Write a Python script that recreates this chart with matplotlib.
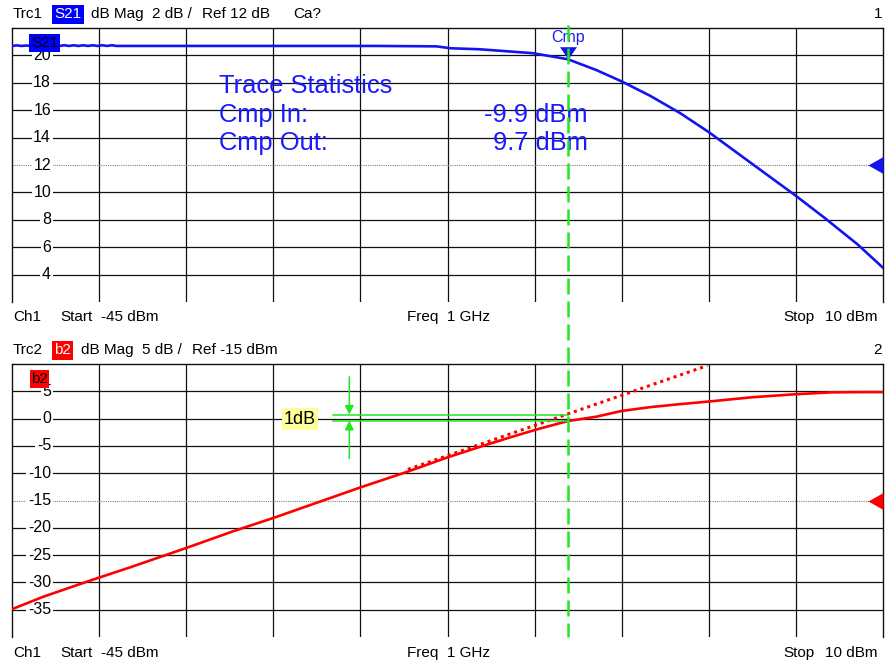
import matplotlib
matplotlib.use("Agg")
import matplotlib.pyplot as plt
from matplotlib.lines import Line2D
from matplotlib.transforms import blended_transform_factory

plt.rcParams['font.family'] = ['Liberation Sans', 'DejaVu Sans']

W, H = 886, 661

# power sweep (dBm)
start_pin = -45.0
stop_pin = 10.0

# Trc1: S21 gain (dB) vs input power (dBm)
s21_pin = [-45.0, -44.7, -44.4, -44.1, -43.8, -43.5, -43.2, -42.9, -42.6, -42.3,
           -42.0, -41.7, -41.4, -41.1, -40.8, -40.5, -40.2, -39.9, -39.6, -39.3,
           -39.0, -38.7, -38.4, -38.1,
           -30.0, -22.0, -18.2, -17.3, -15.5, -14.2, -12.1, -9.9, -8.1, -6.5,
           -4.7, -2.8, -1.0, 1.6, 4.5, 6.3, 8.4, 10.0]
s21_gain = [20.69, 20.73, 20.69, 20.72, 20.69, 20.69, 20.69, 20.69, 20.69, 20.69,
            20.69, 20.74, 20.69, 20.74, 20.69, 20.74, 20.69, 20.74, 20.69, 20.74,
            20.69, 20.74, 20.69, 20.69,
            20.69, 20.69, 20.66, 20.52, 20.45, 20.34, 20.16, 19.72, 18.93, 18.1,
            17.05, 15.78, 14.4, 12.2, 9.75, 8.15, 6.2, 4.5]

# Trc2: b2 wave (dBm) vs input power (dBm)
b2_pin = [-45.0, -43.0, -40.1, -37.5, -34.0, -31.0, -28.5, -25.4, -23.0, -20.0,
          -17.5, -15.0, -13.5, -11.7, -9.9, -8.1, -6.5, -4.7, -2.8, -1.1,
          1.7, 4.4, 6.7, 8.5, 10.0]
b2_out = [-34.9, -32.6, -29.7, -27.2, -23.7, -20.6, -18.2, -15.05, -12.6, -9.7,
          -7.1, -4.75, -3.4, -1.85, -0.45, 0.35, 1.4, 2.1, 2.65, 3.1,
          3.9, 4.45, 4.8, 4.85, 4.85]

# linear extension of b2
lin_pin = [-20.0, -1.1]
lin_out = [-9.3, 9.7]

# compression point
cmp_in = -9.9
cmp_out = 9.7
cmp_gain = 19.72
cmp_upper = 0.75
cmp_lower = -0.4
cmp_bar_pin = [-24.7, -9.9]
arrow_pin = -23.7
arrow_len = 6.9

top_ticks = [4, 6, 8, 10, 12, 14, 16, 18, 20]
top_ref = 12
bot_ticks = [-35, -30, -25, -20, -15, -10, -5, 0, 5]
bot_ref = -15

BLUE = '#1414f0'
RED = '#ff0000'
GREEN = '#22e622'
TXT_BLUE = '#1a1aff'


def px(x, y):
    return x / W, 1 - y / H


def setup_panel(ax, ylo, yhi, ticks, ref):
    ax.set_xlim(start_pin, stop_pin)
    ax.set_ylim(ylo, yhi)
    ax.set_xticks([])
    ax.set_yticks([])
    ax.spines['bottom'].set_visible(False)
    for s in ['left', 'top', 'right']:
        ax.spines[s].set_linewidth(1.0)
        ax.spines[s].set_color('#101010')
    div = (stop_pin - start_pin) / 10
    for k in range(1, 10):
        ax.axvline(start_pin + k * div, color='#101010', lw=0.9, zorder=1)
    for t in ticks:
        if t == ref:
            ax.axhline(t, color='#808080', lw=0.8, ls=(0, (1, 1)), zorder=1)
        else:
            ax.axhline(t, color='#101010', lw=0.9, zorder=1)
    tr = blended_transform_factory(ax.transAxes, ax.transData)
    for t in ticks:
        ax.text(0.0448, t, str(t), transform=tr, ha='right', va='center',
                fontsize=11.5, color='black', zorder=3,
                bbox=dict(boxstyle='square,pad=0.1', fc='white', ec='none'))
    return tr


def ref_marker(ax, tr, ref, color):
    verts = [(-15, 0), (0, 8.5), (0, -8.5), (-15, 0)]
    ax.plot([1.0], [ref], transform=tr, marker=verts, ms=21.6, color=color,
            mec='none', clip_on=False, zorder=6)


def header(y_base, trc, name, name_bg, scale, ref_txt, extra, num):
    fig.text(*px(13, y_base), trc, fontsize=11, va='baseline')
    fig.text(*px(54.3, y_base), name, fontsize=11, va='baseline', color='white',
             bbox=dict(boxstyle='square,pad=0.15', fc=name_bg, ec='none'))
    off = 39 if name == 'S21' else 29
    fig.text(*px(52 + off, y_base), 'dB Mag', fontsize=11, va='baseline')
    fig.text(*px(113 + off, y_base), scale, fontsize=11, va='baseline')
    fig.text(*px(163 + off, y_base), ref_txt, fontsize=11, va='baseline')
    if extra:
        fig.text(*px(293, y_base), extra, fontsize=11, va='baseline')
    fig.text(*px(882, y_base), num, fontsize=11, va='baseline', ha='right')


def footer(y_base):
    fig.text(*px(13, y_base), 'Ch1', fontsize=11, va='baseline')
    fig.text(*px(60, y_base), 'Start', fontsize=11, va='baseline')
    fig.text(*px(101, y_base), '-45 dBm', fontsize=11, va='baseline')
    fig.text(*px(407, y_base), 'Freq  1 GHz', fontsize=11, va='baseline')
    fig.text(*px(783, y_base), 'Stop', fontsize=11, va='baseline')
    fig.text(*px(825, y_base), '10 dBm', fontsize=11, va='baseline')


fig = plt.figure(figsize=(W / 100, H / 100), dpi=100)
fig.patch.set_facecolor('white')

ax1 = fig.add_axes([12 / W, 1 - 302 / H, 871 / W, 274 / H])
ax2 = fig.add_axes([12 / W, 1 - 637 / H, 871 / W, 273 / H])

tr1 = setup_panel(ax1, 2, 22, top_ticks, top_ref)
tr2 = setup_panel(ax2, -40, 10, bot_ticks, bot_ref)

# traces
ax1.plot(s21_pin, s21_gain, color=BLUE, lw=1.9, zorder=4)
ax2.plot(b2_pin, b2_out, color=RED, lw=1.9, zorder=4)
ax2.plot(lin_pin, lin_out, color=RED, lw=2.2, ls=(0, (1, 1.3)), zorder=4)

ref_marker(ax1, tr1, top_ref, BLUE)
ref_marker(ax2, tr2, bot_ref, RED)

# compression marker on S21
cmp_verts = [(-8.5, 12.3), (8.5, 12.3), (0, 0), (-8.5, 12.3)]
ax1.plot([cmp_in], [cmp_gain], marker=cmp_verts, ms=17.7, color=BLUE,
         mec='none', zorder=6)
ax1.annotate('Cmp', xy=(cmp_in, cmp_gain), xytext=(0, 12.5),
             textcoords='offset points', ha='center', va='baseline',
             fontsize=11.5, color=TXT_BLUE, zorder=7)

# 1 dB compression bars
for lvl in (cmp_upper, cmp_lower):
    ax2.plot(cmp_bar_pin, [lvl, lvl], color=GREEN, lw=1.1, zorder=5)
ax2.annotate('', xy=(arrow_pin, cmp_upper), xytext=(arrow_pin, cmp_upper + arrow_len),
             arrowprops=dict(arrowstyle='-|>', color=GREEN, lw=1.1,
                             mutation_scale=13, shrinkA=0, shrinkB=0), zorder=5)
ax2.annotate('', xy=(arrow_pin, cmp_lower), xytext=(arrow_pin, cmp_lower - arrow_len),
             arrowprops=dict(arrowstyle='-|>', color=GREEN, lw=1.1,
                             mutation_scale=13, shrinkA=0, shrinkB=0), zorder=5)
fig.text(*px(300, 419), '1dB', fontsize=13, ha='center', va='center',
         bbox=dict(boxstyle='square,pad=0.12', fc='#ffff99', ec='none'))

# trace labels in the grids
fig.text(*px(44.5, 43), 'S21', fontsize=11, ha='center', va='center', zorder=8,
         bbox=dict(boxstyle='square,pad=0.1', fc='#0000ff', ec='none'))
fig.text(*px(39.5, 379), 'b2', fontsize=11, ha='center', va='center', zorder=8,
         bbox=dict(boxstyle='square,pad=0.1', fc='#ff0000', ec='none'))

# trace statistics
fig.text(*px(219, 93), 'Trace Statistics', fontsize=18.4, color=TXT_BLUE, va='baseline')
fig.text(*px(219, 121.7), 'Cmp In:', fontsize=18.4, color=TXT_BLUE, va='baseline')
fig.text(*px(219, 150), 'Cmp Out:', fontsize=18.4, color=TXT_BLUE, va='baseline')
fig.text(*px(588, 121.7), f'{cmp_in:.1f} dBm', fontsize=18.4, color=TXT_BLUE,
         va='baseline', ha='right')
fig.text(*px(588, 150), f'{cmp_out:.1f} dBm', fontsize=18.4, color=TXT_BLUE,
         va='baseline', ha='right')

# headers / footers
header(18.3, 'Trc1', 'S21', '#0000ff', '2 dB /', 'Ref 12 dB', 'Ca?', '1')
footer(321)
header(354.3, 'Trc2', 'b2', '#ff0000', '5 dB /', 'Ref -15 dBm', None, '2')
footer(657)

# vertical Cmp line through both channels
fig.canvas.draw()
xd = ax1.transData.transform((cmp_in, 0))[0]
xf = fig.transFigure.inverted().transform((xd, 0))[0]
fig.add_artist(Line2D([xf, xf], [1 - 25 / H, 1 - 637 / H], transform=fig.transFigure,
                      color=GREEN, lw=1.8, dashes=(6.4, 2.8), zorder=9))

fig.savefig('out.png', dpi=100, facecolor='white')
